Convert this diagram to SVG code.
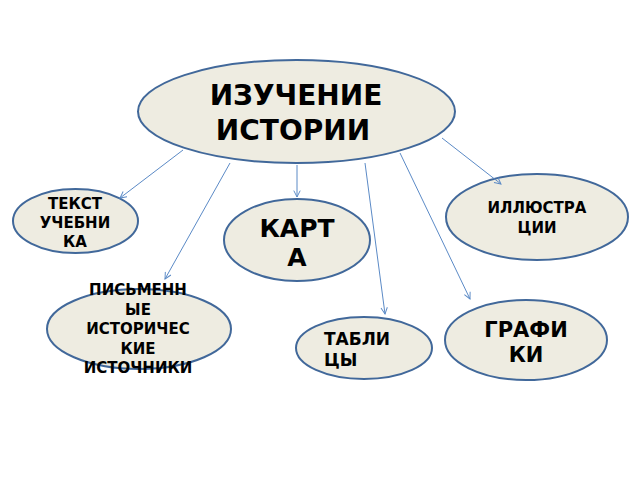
<svg xmlns="http://www.w3.org/2000/svg" width="640" height="480" viewBox="0 0 640 480">
<defs>
<style>
.n{fill:#eeece1;stroke:#41689a;stroke-width:2}
.t{font-family:"DejaVu Sans",Verdana,sans-serif;font-weight:bold;fill:#000;text-anchor:middle}
.c{stroke:#5b8ac6;stroke-width:1;fill:none;marker-end:url(#a)}
</style>
<marker id="a" viewBox="0 0 10 10" refX="9" refY="5" markerWidth="8" markerHeight="8" markerUnits="userSpaceOnUse" orient="auto">
<path d="M1,1 L9,5 L1,9" fill="none" stroke="#5b8ac6" stroke-width="1.2"/>
</marker>
</defs>
<rect width="640" height="480" fill="#fff"/>
<g id="main">
<ellipse class="n" cx="296.5" cy="111.5" rx="158.5" ry="51.5"/>
<text class="t" font-size="28"><tspan x="296" y="105">ИЗУЧЕНИЕ</tspan><tspan x="293" y="140">ИСТОРИИ</tspan></text>
</g>
<g id="tekst">
<ellipse class="n" cx="75.5" cy="221" rx="62.5" ry="32"/>
<text class="t" font-size="15"><tspan x="75" y="209">ТЕКСТ</tspan><tspan x="75" y="228">УЧЕБНИ</tspan><tspan x="75" y="247">КА</tspan></text>
</g>
<g id="karta">
<ellipse class="n" cx="297" cy="240" rx="73" ry="41"/>
<text class="t" font-size="25"><tspan x="297" y="237">КАРТ</tspan><tspan x="297" y="266">А</tspan></text>
</g>
<g id="illustr">
<ellipse class="n" cx="537" cy="217" rx="91" ry="43"/>
<text class="t" font-size="15"><tspan x="537" y="213">ИЛЛЮСТРА</tspan><tspan x="537" y="233">ЦИИ</tspan></text>
</g>
<g id="pismennye">
<ellipse class="n" cx="139" cy="329" rx="92" ry="40"/>
<text class="t" font-size="15"><tspan x="138" y="295">ПИСЬМЕНН</tspan><tspan x="138" y="315">ЫЕ</tspan><tspan x="138" y="334">ИСТОРИЧЕС</tspan><tspan x="138" y="354">КИЕ</tspan><tspan x="138" y="373">ИСТОЧНИКИ</tspan></text>
</g>
<g id="tablicy">
<ellipse class="n" cx="364" cy="348" rx="68" ry="31"/>
<text class="t" font-size="17" style="text-anchor:start"><tspan x="324" y="345">ТАБЛИ</tspan><tspan x="324" y="366">ЦЫ</tspan></text>
</g>
<g id="grafiki">
<ellipse class="n" cx="526" cy="340" rx="81" ry="40"/>
<text class="t" font-size="21"><tspan x="526" y="337">ГРАФИ</tspan><tspan x="526" y="362">КИ</tspan></text>
</g>
<g id="connectors">
<line class="c" x1="183" y1="150" x2="120" y2="198"/>
<line class="c" x1="230" y1="163" x2="165" y2="279"/>
<line class="c" x1="297" y1="165" x2="297" y2="197"/>
<line class="c" x1="365" y1="163" x2="385" y2="314"/>
<line class="c" x1="400" y1="153" x2="470" y2="299"/>
<line class="c" x1="442" y1="138" x2="501" y2="184"/>
</g>
</svg>
